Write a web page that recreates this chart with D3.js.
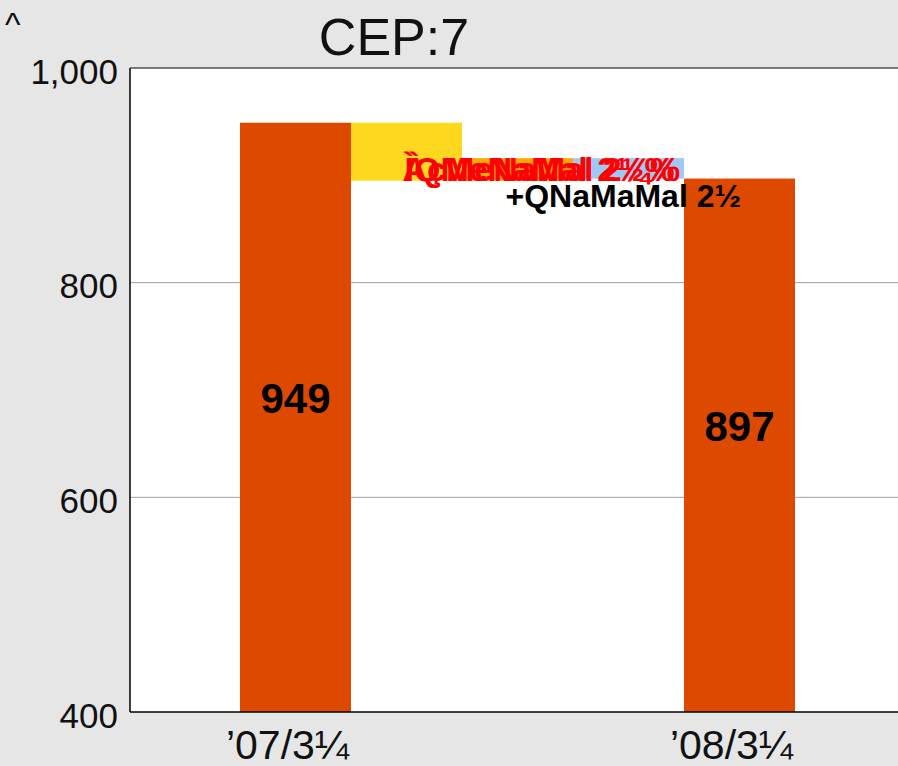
<!DOCTYPE html>
<html>
<head>
<meta charset="utf-8">
<script src="https://cdn.jsdelivr.net/npm/d3@7"></script>
<style>
  body { margin: 0; background: #e6e6e6; }
  text { font-family: "Liberation Sans", Arial, sans-serif; }
</style>
</head>
<body>
<div id="canvas"><svg width="898" height="766"></svg></div>
<script>
// chart data
var categories = ["’07/3¼", "s1", "s2", "s3", "’08/3¼"];
var axisLabels = ["’07/3¼", "", "", "", "’08/3¼"];
var kinds = ["total", "step", "step", "step", "total"];
var values = [949, -54, 21, -19, 897];
var stepColors = ["#de4900", "#fdd81f", "#ffa800", "#9dc8f7", "#de4900"];
var yTicks = [400, 600, 800, 1000];
var gridTicks = [600, 800];
// labels floating over the steps
var stepLabels = ["ÀçMeNaMal  2¼%", "ÌQMeNaMal  2½%", "+QNaMaMal  2½"];
var stepLabelCat = ["s1", "s1", "s2"];
var stepLabelColor = ["#ff0000", "#ff0000", "#000"];

var svg = d3.select("#canvas svg"),
    width = 898,
    height = 766,
    margin = {top: 68, left: 130, bottom: 54};

var x = d3.scaleBand()
    .domain(categories)
    .range([129, 906])
    .paddingInner(0)
    .paddingOuter(1);

var y = d3.scaleLinear()
    .domain([400, 1000])
    .range([height - margin.bottom, margin.top]);

// build waterfall segments
var running = 0;
var segs = categories.map(function (c, i) {
    var v = values[i], lo, hi;
    if (kinds[i] == "total") { lo = 400; hi = v; running = v; }
    else { var nxt = running + v; lo = Math.min(running, nxt); hi = Math.max(running, nxt); running = nxt; }
    return {cat: c, lo: lo, hi: hi, color: stepColors[i], kind: kinds[i], v: v};
});

// plot background
svg.append("rect")
    .attr("x", margin.left).attr("y", margin.top)
    .attr("width", width - margin.left).attr("height", y(400) - margin.top)
    .attr("fill", "#fff");

// gridlines
svg.selectAll(".grid")
    .data(gridTicks)
    .enter()
    .append("line")
    .attr("x1", margin.left).attr("x2", width)
    .attr("y1", function (d) {return y(d);})
    .attr("y2", function (d) {return y(d);})
    .attr("stroke", "#a0a0a0")
    .attr("stroke-width", 1);

// bars
svg.selectAll(".bar")
    .data(segs)
    .enter()
    .append("rect")
    .attr("x", function (d) {return x(d.cat);})
    .attr("width", x.bandwidth())
    .attr("y", function (d) {return y(d.hi);})
    .attr("height", function (d) {return y(d.lo) - y(d.hi);})
    .attr("fill", function (d) {return d.color;});

// frame lines
svg.append("line").attr("x1", margin.left).attr("x2", width)
    .attr("y1", y(1000)).attr("y2", y(1000)).attr("stroke", "#000").attr("stroke-width", 1);
svg.append("line").attr("x1", margin.left).attr("x2", width)
    .attr("y1", y(400)).attr("y2", y(400)).attr("stroke", "#000").attr("stroke-width", 1.5);
svg.append("line").attr("x1", margin.left).attr("x2", margin.left)
    .attr("y1", y(1000)).attr("y2", y(400)).attr("stroke", "#000").attr("stroke-width", 1.5);

// y tick labels
svg.selectAll(".ytick")
    .data(yTicks)
    .enter()
    .append("text")
    .attr("x", margin.left - 12)
    .attr("y", function (d) {return y(d);})
    .attr("dy", "0.45em")
    .attr("text-anchor", "end")
    .attr("font-size", 35)
    .attr("fill", "#111")
    .text(function (d) {return d3.format(",")(d);});

// x category labels
svg.selectAll(".xlab")
    .data(categories)
    .enter()
    .append("text")
    .attr("x", function (d) {return x(d) + x.bandwidth() / 2 - 8;})
    .attr("y", height - 7)
    .attr("text-anchor", "middle")
    .attr("font-size", 41)
    .attr("fill", "#111")
    .text(function (d, i) {return axisLabels[i];});

// total value labels
svg.selectAll(".tot")
    .data(segs.filter(function (d) {return d.kind == "total";}))
    .enter()
    .append("text")
    .attr("x", function (d) {return x(d.cat) + x.bandwidth() / 2;})
    .attr("y", function (d) {return y((d.lo + d.hi) / 2) - 4;})
    .attr("text-anchor", "middle")
    .attr("font-size", 42)
    .attr("font-weight", "bold")
    .attr("fill", "#000")
    .text(function (d) {return d.v;});

// step labels (overlapping, as in the source)
var lblDx = [-4, -2, -12];
var lblY = [895, 895, 895];
var lblDy = [0, 0, 26];
var lblSize = [34, 34, 32];
svg.selectAll(".steplab")
    .data(stepLabels)
    .enter()
    .append("text")
    .attr("x", function (d, i) {return x(stepLabelCat[i]) + x.bandwidth() / 2 + lblDx[i];})
    .attr("y", function (d, i) {return y(lblY[i]) + lblDy[i];})
    .attr("text-anchor", "start")
    .attr("font-size", function (d, i) {return lblSize[i];})
    .attr("font-weight", "bold")
    .attr("fill", function (d, i) {return stepLabelColor[i];})
    .text(function (d) {return d;});

// title and corner mark
svg.append("text")
    .attr("x", 394).attr("y", 55)
    .attr("text-anchor", "middle")
    .attr("font-size", 52)
    .attr("fill", "#111")
    .text("CEP:7");

svg.append("text")
    .attr("x", 5).attr("y", 36)
    .attr("font-size", 33)
    .attr("fill", "#111")
    .text("^");
</script>
</body>
</html>
